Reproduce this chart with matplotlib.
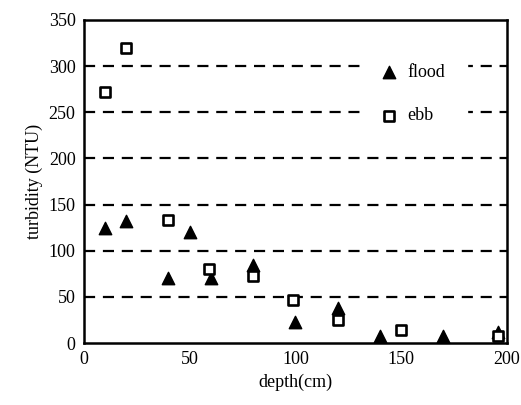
import matplotlib.pyplot as plt

plt.rcParams['font.family'] = ['Liberation Serif', 'DejaVu Serif']

flood_depth = [10, 20, 40, 50, 60, 80, 100, 120, 140, 170, 196]
flood_turb = [125, 132, 70, 120, 70, 85, 23, 38, 8, 8, 12]
ebb_depth = [10, 20, 40, 59, 80, 99, 120, 150, 196]
ebb_turb = [272, 320, 133, 80, 73, 47, 25, 14, 8]
yticks = [0, 50, 100, 150, 200, 250, 300, 350]
xticks = [0, 50, 100, 150, 200]

fig = plt.figure(figsize=(5.21, 4.05), dpi=100)
ax = fig.add_axes([0.161, 0.153, 0.812, 0.798])

for y in yticks[1:-1]:
    ax.axhline(y, color='black', linestyle=(0, (5, 3.5)), linewidth=1.6, zorder=1)

ax.scatter(flood_depth, flood_turb, marker='^', s=80, color='black', label='flood', zorder=3)
ax.scatter(ebb_depth, ebb_turb, marker='s', s=50, facecolor='white', edgecolor='black',
           linewidth=1.9, label='ebb', zorder=3)

ax.set_xlim(0, 200)
ax.set_ylim(0, 350)
ax.set_xticks(xticks)
ax.set_yticks(yticks)
ax.tick_params(length=0, labelsize=13, pad=6)
for s in ax.spines.values():
    s.set_linewidth(1.8)

ax.set_xlabel('depth(cm)', fontsize=13)
ax.set_ylabel('turbidity (NTU)', fontsize=13)

leg = ax.legend(loc='upper right', bbox_to_anchor=(0.905, 0.93), frameon=True, fontsize=13,
                handletextpad=0.6, labelspacing=1.45, borderpad=1.2, handlelength=0.8,
                borderaxespad=0)
leg.get_frame().set_edgecolor('white')
leg.get_frame().set_facecolor('white')
leg.get_frame().set_alpha(1)
leg.get_frame().set_boxstyle('square', pad=0)

fig.savefig('out.png')
